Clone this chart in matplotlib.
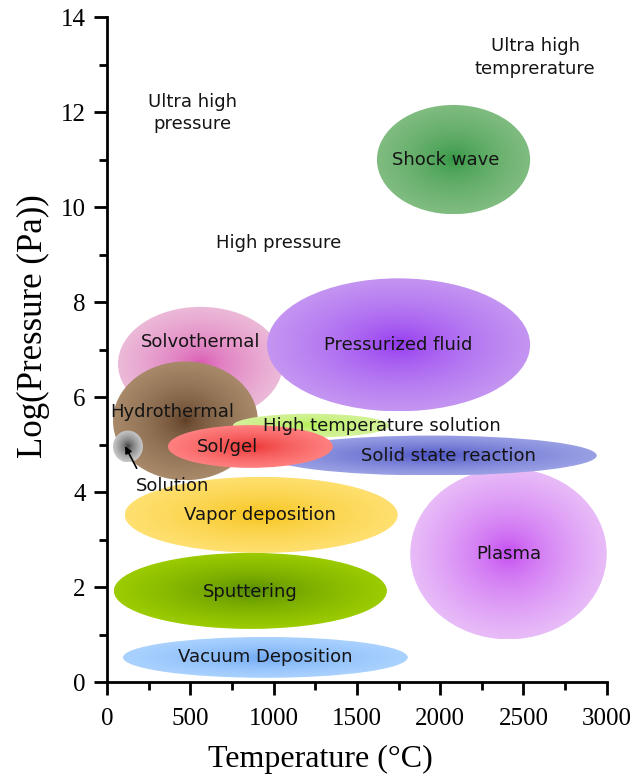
import numpy as np
import matplotlib
matplotlib.use('Agg')
import matplotlib.pyplot as plt
from matplotlib.patches import Ellipse
from matplotlib.colors import to_rgb
from matplotlib.ticker import MultipleLocator

# processos: centro (T, logP), largura, altura, cor do centro, cor da borda
nomes = ['Solvothermal', 'Pressurized fluid', 'Shock wave', 'Plasma',
         'Vapor deposition', 'Sputtering', 'Vacuum Deposition',
         'Hydrothermal', 'Solid state reaction', 'High temperature solution',
         'Sol/gel', 'Solution']
centro_x = [560, 1750, 2080, 2410, 925, 860, 950, 470, 1950, 1225, 860, 125]
centro_y = [6.7, 7.1, 11.0, 2.7, 3.52, 1.92, 0.52, 5.5, 4.77, 5.4, 4.96, 4.96]
largura = [990, 1580, 920, 1180, 1640, 1640, 1710, 870, 1980, 940, 990, 180]
altura = [2.4, 2.8, 2.3, 3.6, 1.6, 1.6, 0.86, 2.5, 0.84, 0.5, 0.9, 0.67]
cor_centro = ['#d850b0', '#9030f0', '#2e9440', '#c040f0', '#f5c010', '#4e8400',
              '#6aa4f2', '#5a3a22', '#4048c0', '#b0f050', '#e82828', '#303030']
cor_borda = ['#ecbad8', '#c495f2', '#80bc80', '#e8bcf8', '#ffe070', '#9ccc00',
             '#aad2ff', '#a88a6a', '#9aa0e4', '#d4f29a', '#ff8080', '#c8c8c8']

# rótulos dos processos
rotulo_x = [560, 1750, 2030, 2410, 920, 860, 950, 390, 2050, 1650, 720, 390]
rotulo_y = [7.17, 7.1, 11.0, 2.7, 3.51, 1.89, 0.53, 5.68, 4.77, 5.4, 4.95, 4.12]

# regiões
regioes = ['Ultra high\npressure', 'High pressure', 'Ultra high\ntemprerature']
regiao_x = [510, 1030, 2570]
regiao_y = [11.98, 9.25, 13.15]

fig = plt.figure(figsize=(6.34, 7.76), dpi=100)
ax = fig.add_axes([0.169, 0.121, 0.788, 0.857])


def elipse_gradiente(ax, cx, cy, w, h, c0, c1, z):
    n = 200
    xs = np.linspace(cx - w / 2, cx + w / 2, n)
    ys = np.linspace(cy - h / 2, cy + h / 2, n)
    X, Y = np.meshgrid(xs, ys)
    r = np.sqrt(((X - cx) / (w / 2)) ** 2 + ((Y - cy) / (h / 2)) ** 2)
    t = np.clip(r, 0, 1)[..., None] ** 0.6
    img = np.array(to_rgb(c0)) * (1 - t) + np.array(to_rgb(c1)) * t
    el = Ellipse((cx, cy), w, h, facecolor='none', edgecolor='none')
    ax.add_patch(el)
    im = ax.imshow(img, extent=(cx - w / 2, cx + w / 2, cy - h / 2, cy + h / 2),
                   origin='lower', aspect='auto', zorder=z, interpolation='bilinear')
    im.set_clip_path(el)


for i in range(len(nomes)):
    elipse_gradiente(ax, centro_x[i], centro_y[i], largura[i], altura[i],
                     cor_centro[i], cor_borda[i], 1 + i * 0.01)

fonte = 'DejaVu Sans'
for i in range(len(nomes)):
    ax.text(rotulo_x[i], rotulo_y[i], nomes[i], ha='center', va='center',
            fontsize=13, family=fonte, color='#141414', zorder=5)

for i in range(len(regioes)):
    ax.text(regiao_x[i], regiao_y[i], regioes[i], ha='center', va='center',
            fontsize=13, family=fonte, color='#141414', zorder=5, linespacing=1.3)

ax.annotate('', xy=(100, 5.02), xytext=(185, 4.45),
            arrowprops=dict(arrowstyle='-|>', color='black', lw=1.2), zorder=6)

ax.set_xlim(0, 3000)
ax.set_ylim(0, 14)
ax.xaxis.set_major_locator(MultipleLocator(500))
ax.xaxis.set_minor_locator(MultipleLocator(250))
ax.yaxis.set_major_locator(MultipleLocator(2))
ax.yaxis.set_minor_locator(MultipleLocator(1))
ax.spines['top'].set_visible(False)
ax.spines['right'].set_visible(False)
for s in ['left', 'bottom']:
    ax.spines[s].set_linewidth(2)
ax.tick_params(which='major', direction='out', length=9.5, width=2, pad=6)
ax.tick_params(which='minor', direction='out', length=5.5, width=2)
ax.tick_params(axis='x', which='major', pad=9)
for lb in ax.get_xticklabels() + ax.get_yticklabels():
    lb.set_family('Liberation Serif')
    lb.set_fontsize(18)
ax.set_xlabel('Temperature (°C)', family='Liberation Serif', fontsize=23)
ax.set_ylabel('Log(Pressure (Pa))', family='Liberation Serif', fontsize=25)
ax.xaxis.set_label_coords(0.426, -0.095)
ax.yaxis.set_label_coords(-0.115, 0.535)

fig.savefig('out.png', dpi=100)
